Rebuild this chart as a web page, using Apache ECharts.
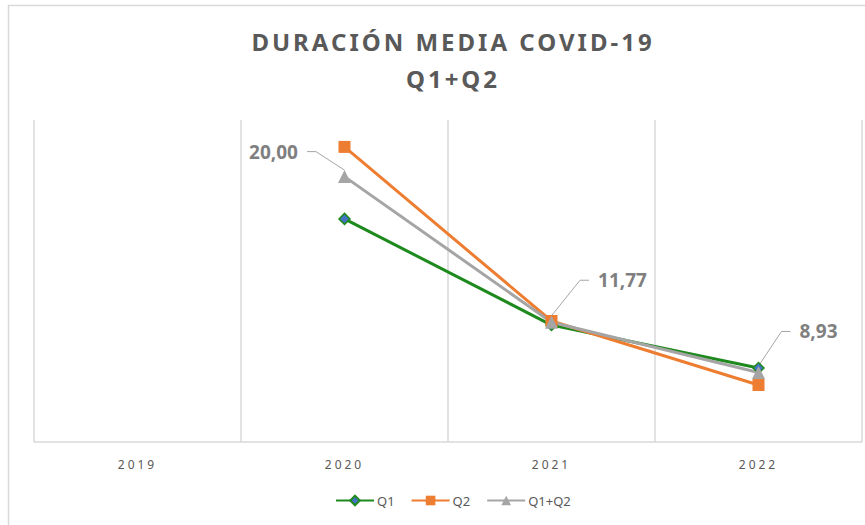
<!DOCTYPE html>
<html>
<head>
<meta charset="utf-8">
<script src="https://cdn.jsdelivr.net/npm/echarts@6/dist/echarts.min.js"></script>
<style>
  html, body { margin: 0; padding: 0; background: #fff; }
  #chart { width: 865px; height: 525px; }
  /* letras espaciadas como en el original (titulo y eje x) */
  #chart text[style*="24px"] { letter-spacing: 3px; }
  #chart text[style*="12px"] { letter-spacing: 3px; }
</style>
</head>
<body>
<div id="chart"></div>
<script>
var years = ['2019', '2020', '2021', '2022']
var q1 = [null, 17.61, 11.61, 9.18]
var q2 = [null, 21.68, 11.84, 8.22]
var q1q2 = [null, 20.00, 11.77, 8.93]

var chart = echarts.init(document.getElementById('chart'), null, { renderer: 'svg' })

// desplazamiento de las etiquetas respecto al punto
var labelShift = { 1: [-71, -25], 2: [71, -42], 3: [60, -41] }

var option = {
  backgroundColor: '#fff',
  animation: false,
  title: {
    text: 'DURACIÓN MEDIA COVID-19\nQ1+Q2',
    left: 448,
    top: 18,
    textAlign: 'center',
    textStyle: {
      fontFamily: 'Noto Sans',
      fontSize: 24,
      fontWeight: 'bold',
      color: '#595959',
      lineHeight: 37,
    },
  },
  graphic: [
    {
      type: 'rect',
      silent: true,
      shape: { x: 8.5, y: 5.5, width: 900, height: 600 },
      style: { fill: 'none', stroke: '#d9d9d9', lineWidth: 1.5 },
    },
  ],
  legend: {
    data: ['Q1', 'Q2', 'Q1+Q2'],
    left: 330,
    top: 489,
    itemWidth: 38,
    itemHeight: 12,
    itemGap: 16,
    textStyle: {
      fontFamily: 'Noto Sans',
      fontSize: 13,
      color: '#595959',
      padding: [0, 0, 0, -2],
    },
  },
  grid: {
    left: 34,
    right: 3,
    top: 120,
    bottom: 83,
  },
  xAxis: {
    type: 'category',
    data: years,
    boundaryGap: true,
    axisTick: { show: false },
    axisLine: { lineStyle: { color: '#d9d9d9', width: 1.5 } },
    splitLine: { show: true, interval: 0, lineStyle: { color: '#d9d9d9', width: 1.5 } },
    axisLabel: {
      margin: 16,
      fontFamily: 'Noto Sans',
      fontSize: 12,
      color: '#595959',
    },
  },
  yAxis: {
    type: 'value',
    min: 5,
    max: 23.2,
    show: false,
  },
  series: [
    {
      name: 'Q1',
      type: 'line',
      data: q1,
      symbol: 'diamond',
      symbolSize: 11,
      itemStyle: { color: '#4472c4', borderColor: '#1e8a1e', borderWidth: 1.5 },
      lineStyle: { color: '#1e8a1e', width: 3 },
    },
    {
      name: 'Q2',
      type: 'line',
      data: q2,
      symbol: 'rect',
      symbolSize: 12,
      itemStyle: { color: '#ed7d31' },
      lineStyle: { color: '#ed7d31', width: 3 },
    },
    {
      name: 'Q1+Q2',
      type: 'line',
      data: q1q2,
      symbol: 'triangle',
      symbolSize: 13,
      itemStyle: { color: '#a5a5a5' },
      lineStyle: { color: '#a5a5a5', width: 3 },
      label: {
        show: true,
        position: 'inside',
        fontFamily: 'Noto Sans',
        fontSize: 19,
        fontWeight: 'bold',
        color: '#7f7f7f',
        padding: [0, 9],
        backgroundColor: 'rgba(255,255,255,0)',
        formatter(p) {
          return p.value.toFixed(2).replace('.', ',')
        },
      },
      labelLine: {
        show: true,
        length2: 9,
        lineStyle: { color: '#a6a6a6', width: 1 },
      },
      labelLayout(params) {
        var s = labelShift[params.dataIndex] || [0, 0]
        return { dx: s[0], dy: s[1] }
      },
    },
  ],
}

chart.setOption(option)
</script>
</body>
</html>
